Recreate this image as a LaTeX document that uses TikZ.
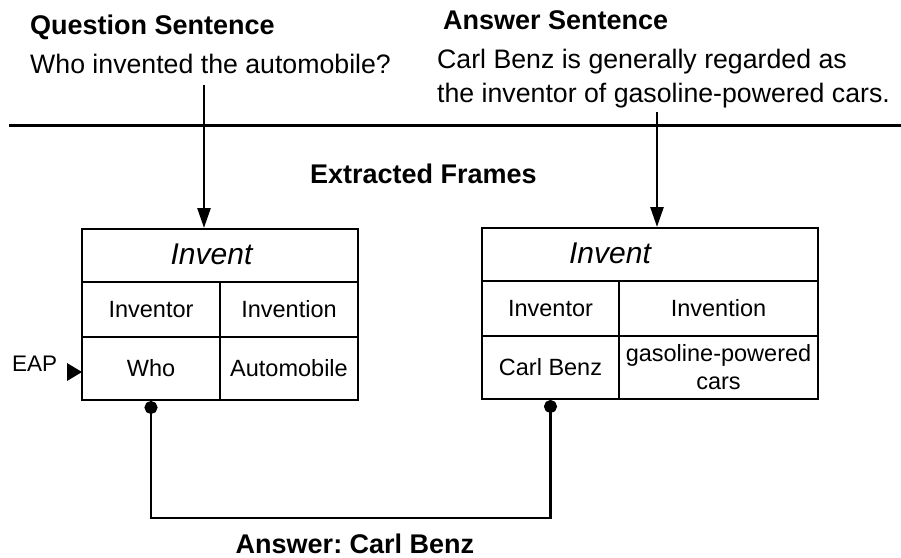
\documentclass[tikz,border=0pt]{standalone}
\usepackage{fontspec}
\setmainfont{Liberation Sans}
\usetikzlibrary{arrows.meta,calc}
\begin{document}
\frenchspacing
\begin{tikzpicture}[x=1pt,y=-1pt,
  heading/.style={font=\fontsize{27}{31}\selectfont\bfseries, inner sep=0pt, anchor=base west},
  sentence/.style={font=\fontsize{26.7}{35}\selectfont, inner sep=0pt, anchor=base west},
  cell/.style={draw, line width=2pt, rectangle, inner sep=0pt, font=\fontsize{23.5}{27}\selectfont, align=center},
  frametitle/.style={inner sep=0pt, font=\fontsize{30}{34}\selectfont\itshape},
  feed/.style={line width=2.6pt, -{Triangle[length=20pt,width=13pt]}},
  link/.style={line width=2.6pt, {Circle[length=13pt]}-{Circle[length=13pt]}}]
\useasboundingbox (0,0) rectangle (901,557);

% sentences
\node[heading] (qhead) at (30,34) {Question Sentence};
\node[sentence] (qtext) at (30,73) {Who invented the automobile?};
\node[heading] (ahead) at (443,29) {Answer Sentence};
\node[sentence] (atext1) at (437,68) {Carl Benz is generally regarded as};
\node[sentence] (atext2) at (437,102) {the inventor of gasoline-powered cars.};

% divider between sentences and frames
\draw[line width=3pt] (9,125) -- (901,125);

\node[heading, anchor=base] (frames) at (423.5,183) {Extracted Frames};

% left frame
\node[cell, minimum width=276, minimum height=53] (Ltitle) at (220,255.5) {};
\node[frametitle] (Linvent) at (211.5,254) {Invent};
\node[cell, minimum width=138, minimum height=55] (Lrole1) at (151,309.5) {Inventor};
\node[cell, minimum width=138, minimum height=55] (Lrole2) at (289,309.5) {Invention};
\node[cell, minimum width=138, minimum height=63] (Lwho) at (151,368.5) {Who};
\node[cell, minimum width=138, minimum height=63] (Lauto) at (289,368.5) {Automobile};

% right frame
\node[cell, minimum width=336, minimum height=53] (Rtitle) at (650,254.5) {};
\node[frametitle] (Rinvent) at (610,253) {Invent};
\node[cell, minimum width=137, minimum height=55] (Rrole1) at (550.5,308.5) {Inventor};
\node[cell, minimum width=199, minimum height=55] (Rrole2) at (718.5,308.5) {Invention};
\node[cell, minimum width=137, minimum height=63] (Rbenz) at (550.5,367.5) {Carl Benz};
\node[cell, minimum width=199, minimum height=63, font=\fontsize{23.5}{28}\selectfont] (Rcars) at (718.5,367.5) {gasoline-powered\\cars};

% EAP marker
\node[font=\fontsize{22.5}{26}\selectfont, inner sep=0pt, anchor=base west] (eap) at (12,371) {EAP};
\fill (67,363) -- (82,372) -- (67,381) -- cycle;

% sentence to frame arrows
\coordinate (qstart) at (204,85);
\coordinate (astart) at (657,112);
\draw[feed] (qstart) -- (Ltitle.north -| qstart);
\draw[feed] (astart) -- (Rtitle.north -| astart);

% answer link
\coordinate (bottom) at (0,518);
\draw[link] (Lwho.south) -- (Lwho.south |- bottom) -- (Rbenz.south |- bottom) -- (Rbenz.south);
\node[heading, anchor=base] (answer) at (355,553) {Answer: Carl Benz};
\end{tikzpicture}
\end{document}
